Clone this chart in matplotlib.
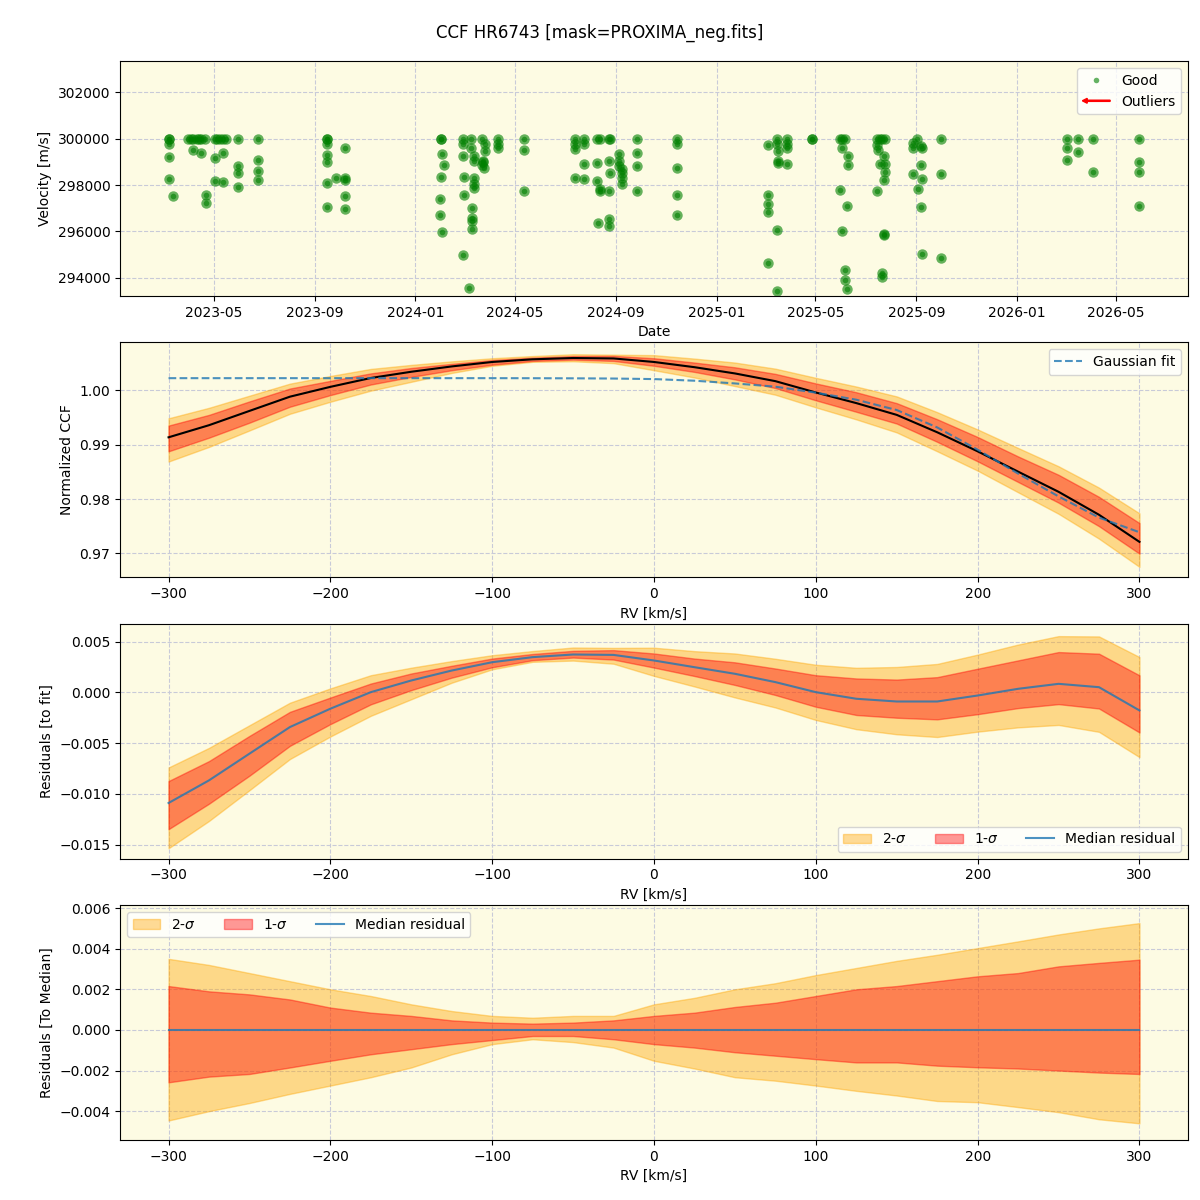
import numpy as np
import pandas as pd
import matplotlib
matplotlib.use('Agg')
import matplotlib.pyplot as plt
import matplotlib.dates as mdates
from matplotlib.patches import FancyArrow
from matplotlib.legend_handler import HandlerPatch

# ---- RV time series (good points) ----
rv_dates = [
    '2023-03-07', '2023-03-07', '2023-03-07', '2023-03-07', '2023-03-08', '2023-03-12',
    '2023-03-31', '2023-04-03', '2023-04-06', '2023-04-10', '2023-04-13', '2023-04-16',
    '2023-04-20', '2023-05-02', '2023-05-05', '2023-05-08', '2023-05-12', '2023-05-16',
    '2023-04-06', '2023-04-16', '2023-04-22', '2023-04-22', '2023-05-03', '2023-05-03',
    '2023-05-12', '2023-05-12', '2023-05-30', '2023-05-30', '2023-05-30', '2023-05-30',
    '2023-06-24', '2023-06-24', '2023-06-24', '2023-06-24',
    '2023-09-15', '2023-09-15', '2023-09-15', '2023-09-15', '2023-09-15', '2023-09-16',
    '2023-09-16', '2023-09-26', '2023-10-07', '2023-10-07', '2023-10-07', '2023-10-07',
    '2023-10-07',
    '2024-01-31', '2024-01-31', '2024-02-01', '2024-02-01', '2024-02-01', '2024-02-02',
    '2024-02-02', '2024-02-05', '2024-02-28', '2024-02-28', '2024-02-28', '2024-02-28',
    '2024-02-29', '2024-02-29', '2024-03-06', '2024-03-08', '2024-03-08', '2024-03-10',
    '2024-03-10', '2024-03-10', '2024-03-10', '2024-03-12', '2024-03-12', '2024-03-12',
    '2024-03-12', '2024-03-12', '2024-03-22', '2024-03-22', '2024-03-23', '2024-03-23',
    '2024-03-24', '2024-03-25', '2024-03-26', '2024-04-11', '2024-04-11', '2024-04-11',
    '2024-05-12', '2024-05-12', '2024-05-12',
    '2024-07-13', '2024-07-13', '2024-07-13', '2024-07-13', '2024-07-24', '2024-07-24',
    '2024-07-24', '2024-07-24', '2024-08-09', '2024-08-09', '2024-08-09', '2024-08-12',
    '2024-08-12', '2024-08-12', '2024-08-10', '2024-08-23', '2024-08-23', '2024-08-23',
    '2024-08-23', '2024-08-23', '2024-08-24', '2024-08-24', '2024-09-05', '2024-09-05',
    '2024-09-05', '2024-09-08', '2024-09-08', '2024-09-08', '2024-09-08', '2024-09-26',
    '2024-09-26', '2024-09-26', '2024-09-26', '2024-11-14', '2024-11-14', '2024-11-14',
    '2024-11-14', '2024-11-14',
    '2025-03-04', '2025-03-04', '2025-03-04', '2025-03-04', '2025-03-04', '2025-03-16',
    '2025-03-16', '2025-03-16', '2025-03-16', '2025-03-17', '2025-03-17', '2025-03-17',
    '2025-03-28', '2025-03-28', '2025-03-28', '2025-03-28', '2025-04-27', '2025-04-27',
    '2025-05-31', '2025-05-31', '2025-06-03', '2025-06-03', '2025-06-03', '2025-06-06',
    '2025-06-06', '2025-06-06', '2025-06-08', '2025-06-08', '2025-06-10', '2025-06-10',
    '2025-07-15', '2025-07-15', '2025-07-15', '2025-07-16', '2025-07-19', '2025-07-19',
    '2025-07-21', '2025-07-21', '2025-07-21', '2025-07-23', '2025-07-23', '2025-07-24',
    '2025-07-24', '2025-07-25', '2025-07-25', '2025-07-25',
    '2025-08-28', '2025-08-28', '2025-08-28', '2025-09-02', '2025-09-03', '2025-09-06',
    '2025-09-06', '2025-09-06', '2025-09-08', '2025-09-08', '2025-09-08', '2025-10-01',
    '2025-10-01', '2025-10-01',
    '2026-03-03', '2026-03-03', '2026-03-03', '2026-03-16', '2026-03-16', '2026-04-04',
    '2026-04-04', '2026-05-30', '2026-05-30', '2026-05-30', '2026-05-30',
]
rv_values = [
    300000, 299780, 299200, 298270, 300000, 297530,
    300000, 300000, 300000, 300000, 300000, 300000,
    300000, 300000, 300000, 300000, 300000, 300000,
    299520, 299400, 297570, 297220, 299180, 298190,
    299400, 298150, 300000, 298830, 298530, 297920,
    300000, 299090, 298620, 298230,
    300000, 299780, 299300, 299000, 297060, 298100,
    300000, 298300, 299620, 298300, 298230, 297530,
    296970,
    297410, 296720, 300000, 300000, 298360, 299350,
    295980, 298880, 300000, 299780, 299260, 294990,
    298360, 297580, 293560, 300000, 299620, 297020,
    296590, 296460, 296110, 299260, 299050, 298320,
    298060, 297880, 300000, 298880, 299050, 299000,
    298750, 299480, 299780, 300000, 299780, 299610,
    300000, 299520, 297750,
    300000, 299780, 299560, 298320, 300000, 299780,
    298920, 298270, 300000, 298960, 298190, 300000,
    297840, 297750, 296370, 300000, 299050, 297750,
    296540, 296240, 298530, 300000, 299350, 299050,
    298830, 298700, 298530, 298050, 298300, 300000,
    299400, 298830, 297750, 300000, 299780, 298750,
    297580, 296720,
    299740, 297580, 297190, 296850, 294650, 300000,
    299780, 296070, 293440, 299480, 299050, 298960,
    300000, 299780, 299610, 298920, 300000, 300000,
    300000, 297800, 300000, 299610, 296030, 300000,
    294340, 293910, 297110, 293520, 299260, 298880,
    300000, 299740, 297750, 299520, 300000, 298920,
    300000, 294210, 294040, 295900, 295830, 299260,
    298230, 300000, 298920, 298570,
    299830, 299610, 298490, 300000, 297840, 299700,
    298880, 297060, 299610, 298270, 295030, 300000,
    298490, 294860,
    300000, 299610, 299090, 300000, 299440, 300000,
    298570, 300000, 299000, 298570, 297110,
]

# ---- CCF profile (read every 25 km/s) ----
rv_grid = [-300, -275, -250, -225, -200, -175, -150, -125, -100, -75, -50, -25, 0,
           25, 50, 75, 100, 125, 150, 175, 200, 225, 250, 275, 300]
gauss_fit = [1.00227, 1.00227, 1.00227, 1.00227, 1.00227, 1.00227, 1.00227, 1.00227,
             1.00227, 1.00226, 1.00224, 1.0022, 1.0021, 1.0018, 1.0013, 1.0007, 0.9996,
             0.9983, 0.9964, 0.9932, 0.9891, 0.9847, 0.9805, 0.9766, 0.9739]
resid_median = [-0.01089, -0.00866, -0.00603, -0.00341, -0.0016, 0.00003, 0.00118,
                0.00216, 0.00298, 0.00348, 0.00374, 0.0037, 0.00315, 0.00249, 0.00184,
                0.00102, 0.00003, -0.00062, -0.00089, -0.00089, -0.0003, 0.00036,
                0.00085, 0.00052, -0.00177]
# spread of the CCFs around the median
sig2_hi = [0.0035, 0.0032, 0.0028, 0.0024, 0.002, 0.00167, 0.00126, 0.00093, 0.00069,
           0.0006, 0.00069, 0.00069, 0.00126, 0.00158, 0.002, 0.0023, 0.0027, 0.00305,
           0.0034, 0.0037, 0.00403, 0.00436, 0.0047, 0.005, 0.00526]
sig1_hi = [0.00216, 0.0019, 0.00175, 0.0015, 0.0011, 0.00085, 0.00069, 0.00047, 0.00036,
           0.00031, 0.00036, 0.00047, 0.00069, 0.00085, 0.00113, 0.00134, 0.00167, 0.002,
           0.00216, 0.0024, 0.00264, 0.0028, 0.00313, 0.0033, 0.00346]
sig1_lo = [-0.00258, -0.0023, -0.00217, -0.00185, -0.00152, -0.0012, -0.00095, -0.0007,
           -0.0005, -0.0003, -0.0003, -0.00046, -0.0007, -0.00087, -0.0011, -0.00127,
           -0.00144, -0.0016, -0.0016, -0.00176, -0.00184, -0.0019, -0.002, -0.0021,
           -0.00217]
sig2_lo = [-0.00446, -0.004, -0.0036, -0.00315, -0.00274, -0.00233, -0.00185, -0.0012,
           -0.0007, -0.00046, -0.0006, -0.00087, -0.00152, -0.0019, -0.00233, -0.0025,
           -0.00274, -0.003, -0.00323, -0.0035, -0.00356, -0.0038, -0.00405, -0.0044,
           -0.0046]

BG = '#fdfbe3'
GRID = dict(color='#c8cad8', linestyle='--', linewidth=0.8)

rv = np.array(rv_grid)
fit = np.array(gauss_fit)
res = np.array(resid_median)
med = fit + res
s2h, s1h = np.array(sig2_hi), np.array(sig1_hi)
s1l, s2l = np.array(sig1_lo), np.array(sig2_lo)

fig, axes = plt.subplots(4, 1, figsize=(12, 12), dpi=100)
fig.subplots_adjust(left=0.1, right=0.99, top=0.949, bottom=0.05, hspace=0.197)
fig.suptitle('CCF HR6743 [mask=PROXIMA_neg.fits]', fontsize=12, y=0.98)

for ax in axes:
    ax.set_facecolor(BG)
    ax.grid(True, **GRID)
    ax.set_axisbelow(True)

# panel 1: velocities
ax = axes[0]
t = pd.to_datetime(rv_dates)
ax.plot(t, rv_values, 'o', color='green', alpha=0.6, ms=7.5, mew=0)
ax.plot(t, rv_values, 'o', color='green', alpha=0.6, ms=4, mew=0, label='Good')
ax.set_ylim(293200, 303350)
ax.xaxis.set_major_locator(mdates.MonthLocator(bymonth=[1, 5, 9]))
ax.xaxis.set_major_formatter(mdates.DateFormatter('%Y-%m'))
ax.set_xlabel('Date')
ax.set_ylabel('Velocity [m/s]')


def make_arrow(legend, orig_handle, xdescent, ydescent, width, height, fontsize):
    return FancyArrow(width - xdescent, height / 2 - ydescent, -width, 0,
                      width=height * 0.12, head_width=height * 0.5,
                      head_length=height * 0.5, length_includes_head=True,
                      color='red')


arr = FancyArrow(0, 0, 1, 0, color='red', label='Outliers')
h, l = ax.get_legend_handles_labels()
ax.legend(h + [arr], l + ['Outliers'], loc='upper right',
          handler_map={FancyArrow: HandlerPatch(patch_func=make_arrow)})

# panel 2: CCF
ax = axes[1]
ax.fill_between(rv, med + s2l, med + s2h, color='orange', alpha=0.4)
ax.fill_between(rv, med + s1l, med + s1h, color='red', alpha=0.4)
ax.plot(rv, med, color='black', lw=1.5)
ax.plot(rv, fit, '--', color='C0', alpha=0.8, lw=1.5, label='Gaussian fit')
ax.set_ylim(0.96558, 1.00884)
ax.set_xlabel('RV [km/s]')
ax.set_ylabel('Normalized CCF')
ax.legend(loc='upper right')

# panel 3: residuals to fit
ax = axes[2]
ax.fill_between(rv, res + s2l, res + s2h, color='orange', alpha=0.4, label=r'2-$\sigma$')
ax.fill_between(rv, res + s1l, res + s1h, color='red', alpha=0.4, label=r'1-$\sigma$')
ax.plot(rv, res, color='C0', alpha=0.8, lw=1.5, label='Median residual')
ax.set_ylim(-0.01638, 0.00677)
ax.set_xlabel('RV [km/s]')
ax.set_ylabel('Residuals [to fit]')
ax.legend(loc='lower right', ncol=3)

# panel 4: residuals to median
ax = axes[3]
ax.fill_between(rv, s2l, s2h, color='orange', alpha=0.4, label=r'2-$\sigma$')
ax.fill_between(rv, s1l, s1h, color='red', alpha=0.4, label=r'1-$\sigma$')
ax.plot(rv, np.zeros_like(rv, dtype=float), color='C0', alpha=0.8, lw=1.5,
        label='Median residual')
ax.set_ylim(-0.00542, 0.00615)
ax.set_xlabel('RV [km/s]')
ax.set_ylabel('Residuals [To Median]')
ax.legend(loc='upper left', ncol=3)

plt.savefig('out.png', dpi=100)
